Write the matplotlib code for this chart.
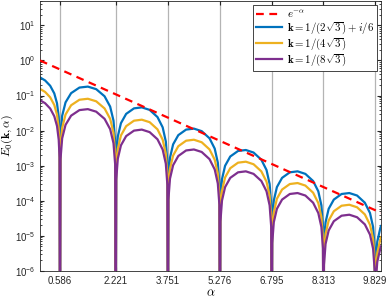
import numpy as np
import matplotlib
matplotlib.use('Agg')
import matplotlib.pyplot as plt
from matplotlib.ticker import LogLocator, NullFormatter, FixedLocator

plt.rcParams['font.family'] = ['Liberation Sans', 'DejaVu Sans']
plt.rcParams['mathtext.fontset'] = 'cm'

# zeros of the curves (x tick positions)
zeros = [0.586, 2.221, 3.751, 5.276, 6.795, 8.313, 9.829]

# sample positions along alpha
alpha = [0.0, 0.15, 0.3, 0.42, 0.5, 0.55, 0.575, 0.586,
         0.602, 0.651, 0.750, 0.913, 1.158, 1.404, 1.649, 1.894, 2.058, 2.156, 2.205, 2.221,
         2.236, 2.282, 2.374, 2.527, 2.757, 2.986, 3.216, 3.445, 3.598, 3.690, 3.736, 3.751,
         3.766, 3.812, 3.904, 4.056, 4.285, 4.514, 4.742, 4.971, 5.124, 5.215, 5.261, 5.276,
         5.291, 5.337, 5.428, 5.580, 5.808, 6.036, 6.263, 6.491, 6.643, 6.734, 6.780, 6.795,
         6.810, 6.856, 6.947, 7.099, 7.326, 7.554, 7.782, 8.009, 8.161, 8.252, 8.298, 8.313,
         8.328, 8.374, 8.465, 8.616, 8.844, 9.071, 9.298, 9.526, 9.677, 9.768, 9.814, 9.829,
         9.844, 9.890, 9.981, 10.0]

blue = [0.33, 0.27, 0.19, 0.115, 0.060, 0.0245, 0.00756, 1e-9,
        0.0067, 0.0265, 0.0639, 0.117, 0.169, 0.18, 0.152, 0.0954, 0.0484, 0.0193, 0.00477, 1e-9,
        0.00171, 0.00676, 0.0163, 0.0300, 0.0431, 0.046, 0.039, 0.0244, 0.0124, 0.00492, 0.00122, 1e-9,
        0.000424, 0.00168, 0.00405, 0.00743, 0.0107, 0.0114, 0.00966, 0.00604, 0.00307, 0.00122, 0.000302, 1e-9,
        0.000104, 0.000412, 0.000994, 0.00183, 0.00263, 0.0028, 0.00237, 0.00148, 0.000753, 0.0003, 7.42e-5, 1e-9,
        2.57e-5, 0.000101, 0.000245, 0.00045, 0.000647, 0.00069, 0.000584, 0.000366, 0.000186, 7.38e-5, 1.83e-5, 1e-9,
        6.18e-6, 2.44e-5, 5.89e-5, 0.000108, 0.000156, 0.000166, 0.000141, 8.8e-5, 4.47e-5, 1.78e-5, 4.4e-6, 1e-9,
        1.7e-6, 6.8e-6, 1.69e-5, 1.9e-5]

yellow = [0.155, 0.127, 0.0891, 0.0538, 0.0282, 0.0115, 0.00355, 1e-9,
          0.00301, 0.0119, 0.0288, 0.0528, 0.076, 0.081, 0.0686, 0.0429, 0.0218, 0.00867, 0.00215, 1e-9,
          0.000763, 0.00301, 0.00728, 0.0134, 0.0192, 0.0205, 0.0174, 0.0109, 0.00551, 0.00219, 0.000543, 1e-9,
          0.000205, 0.000809, 0.00195, 0.00359, 0.00516, 0.0055, 0.00466, 0.00292, 0.00148, 0.000589, 0.000146, 1e-9,
          4.84e-5, 0.000191, 0.000462, 0.000848, 0.00122, 0.0013, 0.0011, 0.000689, 0.00035, 0.000139, 3.45e-5, 1e-9,
          1.19e-5, 4.7e-5, 0.000114, 0.000209, 0.0003, 0.00032, 0.000271, 0.00017, 8.61e-5, 3.42e-5, 8.48e-6, 1e-9,
          2.86e-6, 1.13e-5, 2.73e-5, 5.02e-5, 7.22e-5, 7.7e-5, 6.52e-5, 4.08e-5, 2.07e-5, 8.24e-6, 2.04e-6, 1e-9,
          8.1e-7, 3.24e-6, 8.0e-6, 9.0e-6]

purple = [0.074, 0.0605, 0.0426, 0.0257, 0.0135, 0.00548, 0.00169, 1e-9,
          0.00153, 0.00603, 0.0146, 0.0267, 0.0385, 0.041, 0.0347, 0.0217, 0.011, 0.00439, 0.00109, 1e-9,
          0.000398, 0.00157, 0.0038, 0.00698, 0.01, 0.0107, 0.00906, 0.00567, 0.00288, 0.00114, 0.000284, 1e-9,
          0.000108, 0.000426, 0.00103, 0.00189, 0.00272, 0.0029, 0.00246, 0.00154, 0.00078, 0.00031, 7.69e-5, 1e-9,
          2.57e-5, 0.000101, 0.000245, 0.00045, 0.000647, 0.00069, 0.000584, 0.000366, 0.000186, 7.38e-5, 1.83e-5, 1e-9,
          6.18e-6, 2.44e-5, 5.89e-5, 0.000108, 0.000156, 0.000166, 0.000141, 8.8e-5, 4.47e-5, 1.78e-5, 4.4e-6, 1e-9,
          1.49e-6, 5.88e-6, 1.42e-5, 2.61e-5, 3.75e-5, 4.0e-5, 3.39e-5, 2.12e-5, 1.08e-5, 4.28e-6, 1.06e-6, 1e-9,
          4.5e-7, 1.8e-6, 4.44e-6, 5e-6]

# e^-alpha reference line, endpoints only
ref_alpha = [0.0, 10.0]
ref_vals = [1.0, 4.54e-5]

labels = [r'$e^{-\alpha}$',
          r'$\mathbf{k}=1/(2\sqrt{3})+i/6$',
          r'$\mathbf{k}=1/(4\sqrt{3})$',
          r'$\mathbf{k}=1/(8\sqrt{3})$']

fig = plt.figure(figsize=(3.88, 3.0), dpi=100)
ax = fig.add_axes([0.103, 0.097, 0.879, 0.900])

ax.plot(ref_alpha, ref_vals, color='#ff0000', ls=(0, (3.5, 2.5)), lw=1.6, label=labels[0], zorder=5)
ax.plot(alpha, blue, color='#0072BD', lw=1.6, label=labels[1])
ax.plot(alpha, yellow, color='#EDB120', lw=1.6, label=labels[2])
ax.plot(alpha, purple, color='#7E2F8E', lw=1.6, label=labels[3])

ax.set_yscale('log')
ax.set_xlim(0, 10)
ax.set_ylim(1e-6, 50)

ax.xaxis.set_major_locator(FixedLocator(zeros))
ax.set_xticklabels(['%.3f' % z for z in zeros])
ax.yaxis.set_minor_locator(LogLocator(base=10, subs=np.arange(2, 10), numticks=20))
ax.yaxis.set_minor_formatter(NullFormatter())
ax.set_yticks([10.0**p for p in range(-6, 2)])
ax.set_yticklabels([r'$\mathregular{10^{%d}}$' % p for p in range(-6, 2)])

ax.grid(True, axis='x', color='#b4b4b4', lw=0.9)
ax.tick_params(which='both', direction='in', top=True, right=True, labelsize=7, colors='#262626')
ax.tick_params(which='major', length=3)
ax.tick_params(which='minor', length=1.6)
for s in ax.spines.values():
    s.set_color('#262626')
    s.set_linewidth(0.6)

ax.set_xlabel(r'$\alpha$', fontsize=9, labelpad=1)
ax.set_ylabel(r'$E_0(\mathbf{k},\alpha)$', fontsize=8.5, labelpad=-0.5)

leg = ax.legend(loc='upper right', fontsize=7.8, fancybox=False, framealpha=1,
                edgecolor='#262626', borderpad=0.3, handlelength=2.4,
                labelspacing=0.0, borderaxespad=0.35, handletextpad=0.4)
leg.get_frame().set_linewidth(0.6)

fig.savefig('out.png', dpi=100)
